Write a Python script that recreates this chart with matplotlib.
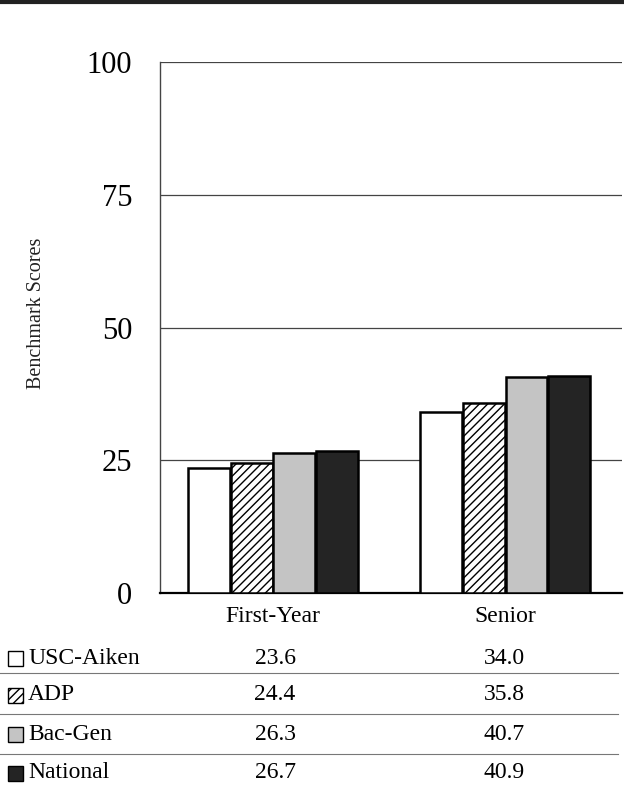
import matplotlib
matplotlib.use("Agg")
import matplotlib.pyplot as plt
import numpy as np
from matplotlib.patches import Rectangle
from matplotlib.lines import Line2D

plt.rcParams['font.family'] = ['Liberation Serif', 'DejaVu Serif']
plt.rcParams['hatch.linewidth'] = 1.0

# Data
groups = ['First-Year', 'Senior']
series = ['USC-Aiken', 'ADP', 'Bac-Gen', 'National']
usc_aiken = [23.6, 34.0]
adp = [24.4, 35.8]
bac_gen = [26.3, 40.7]
national = [26.7, 40.9]
yticks = [0, 25, 50, 75, 100]

values = [usc_aiken, adp, bac_gen, national]
faces = ['white', 'white', '#c4c4c4', '#242424']
hatches = [None, '////', None, None]

W, H = 624, 801
fig = plt.figure(figsize=(W / 100, H / 100), dpi=100)

# axes placed by pixel edges
left, right, top, bottom = 160, 622, 62, 593
ax = fig.add_axes([left / W, 1 - bottom / H, (right - left) / W, (bottom - top) / H])

x = np.arange(len(groups))
width = 0.18
step = 0.184
for i, (vals, fc, h) in enumerate(zip(values, faces, hatches)):
    ax.bar(x + (i - 1.5) * step, vals, width, color=fc, edgecolor='black',
           linewidth=1.8, hatch=h, zorder=3)

ax.set_xlim(-0.487, 1.504)
ax.set_ylim(0, 100)
ax.set_yticks(yticks)
ax.set_yticklabels([str(t) for t in yticks], fontsize=22)
ax.tick_params(axis='y', length=0, pad=20)
ax.set_xticks(x)
ax.set_xticklabels(groups, fontsize=17)
ax.tick_params(axis='x', length=0, pad=9)

for t in yticks[1:]:
    ax.axhline(t, color='#444444', linewidth=0.9, zorder=1)

ax.spines['top'].set_visible(False)
ax.spines['right'].set_visible(False)
ax.spines['left'].set_linewidth(1.0)
ax.spines['left'].set_color('#444444')
ax.spines['bottom'].set_linewidth(1.6)

fig.text(37 / W, 1 - 313 / H, 'Benchmark Scores', rotation=90, fontsize=14.5,
         ha='center', va='center', color='#222222')

# scanned border at the top
fig.add_artist(Line2D([0, 1], [1 - 1.5 / H, 1 - 1.5 / H], color='#222222', linewidth=3))

# data table below chart
row_y = [658, 695, 734, 773]
sep_y = [673, 714, 754]
col_x = [275, 504]
for r, (name, vals, fc, h) in enumerate(zip(series, values, faces, hatches)):
    y = row_y[r]
    fig.add_artist(Rectangle((8 / W, 1 - (y + 8) / H), 15 / W, 15 / H,
                             facecolor=fc, edgecolor='black', linewidth=1.0, hatch=h))
    fig.text(28 / W, 1 - y / H, name, fontsize=17, ha='left', va='center')
    for c, v in enumerate(vals):
        fig.text(col_x[c] / W, 1 - y / H, f'{v:.1f}', fontsize=17, ha='center', va='center')
for sy in sep_y:
    ly = 1 - sy / H
    fig.add_artist(Line2D([0, 0.99], [ly, ly], color='#777777', linewidth=0.8))

fig.savefig('out.png', dpi=100)
